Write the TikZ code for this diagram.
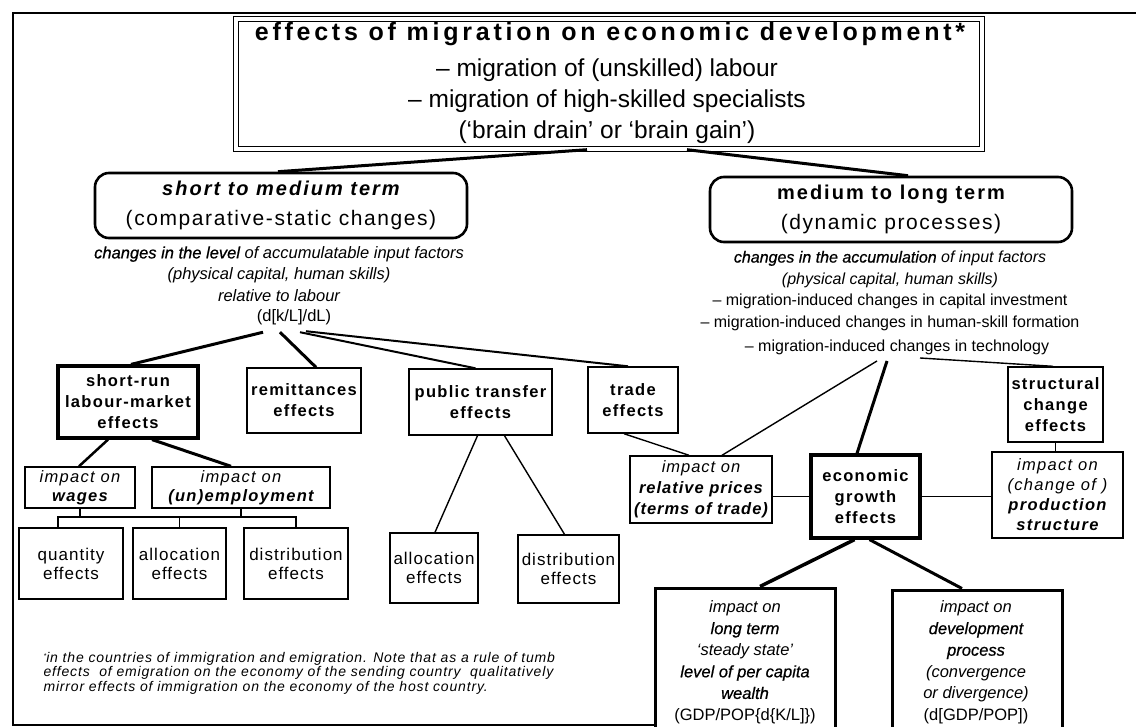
\documentclass[tikz,border=0pt]{standalone}
\usepackage{fontspec}
\setmainfont{Liberation Sans}
\usetikzlibrary{calc}

% fonts used in the chart
\newcommand\labfont{\fontsize{16.5}{21}\selectfont\addfontfeature{LetterSpace=8}}
\newcommand\efffont{\fontsize{17}{19}\selectfont\addfontfeature{LetterSpace=6}}
\newcommand\semibf{\addfontfeature{FakeBold=0.7}}
% box given by its corners: name, style, x1, y1, x2, y2, text
\newcommand\ebox[7]{\node[#2, minimum width={#5-#3}, minimum height={#6-#4}] (#1) at ({(#3+#5)/2},{(#4+#6)/2}) {#7};}

\begin{document}
\begin{tikzpicture}[x=1pt, y=-1pt,
  plainbox/.style={draw, line width=1.4pt, inner sep=0pt, align=center, font=\labfont},
  heavybox/.style={plainbox, line width=3.2pt},
  termbox/.style={draw, line width=2.6pt, rounded corners=14pt, inner sep=0pt, align=center, font=\fontsize{20}{30}\selectfont},
  effbox/.style={plainbox, font=\efffont},
  link/.style={line width=1.4pt},
  heavylink/.style={line width=3pt}]
\useasboundingbox (0,0) rectangle (1136,727);
\clip (0,0) rectangle (1136,727);

% outer frame
\draw[line width=1.6pt] (1140,13) -- (13,13) -- (13,725) -- (655,725);

% heading
\ebox{head}{draw, double, double distance=4pt, line width=1.4pt}{236}{19}{982}{149}{}
\node[font=\fontsize{25}{30}\selectfont\bfseries\addfontfeature{LetterSpace=15}] (ttl) at (610,34) {effects of migration on economic development*};
\node[font=\fontsize{24.5}{31}\selectfont, align=center] (sub) at (607,101)
  {– migration of (unskilled) labour\\ – migration of high-skilled specialists\\ (‘brain drain’ or ‘brain gain’)};

% the two time horizons
\ebox{stm}{termbox}{95}{173}{467}{238}{{\bfseries\itshape\addfontfeature{LetterSpace=10}short to medium term}\\{\fontsize{21}{30}\selectfont\addfontfeature{LetterSpace=7.5}(comparative-static changes)}}
\ebox{mlt}{termbox}{710}{177}{1072}{242}{{\bfseries\addfontfeature{LetterSpace=10}medium to long term}\\{\fontsize{21}{30}\selectfont\addfontfeature{LetterSpace=7.5}(dynamic processes)}}
\draw[heavylink] ($(head.south)+(-22,0)$) -- ($(stm.north)+(-3,0)$);
\draw[heavylink] ($(head.south)+(78,0)$) -- ($(mlt.north)+(17,0)$);

% explanations below the horizons
\node[font=\fontsize{16.5}{21.5}\selectfont\itshape, align=center] (lvl) at (279,274)
  {{\semibf changes in the level} of accumulatable input factors\\(physical capital, human skills)\\relative to labour};
\node[font=\fontsize{16.5}{20}\selectfont] (dkl) at (294,317) {(d[k/L]/dL)};
\node[font=\fontsize{16}{21.7}\selectfont, align=center] (acc) at (890,291)
  {{\itshape\semibf changes in the accumulation} {\itshape of input factors}\\{\itshape (physical capital, human skills)}\\– migration-induced changes in capital investment\\– migration-induced changes in human-skill formation};
\node[font=\fontsize{16}{20}\selectfont] (tech) at (897,347) {– migration-induced changes in technology};

% short to medium term branch
\ebox{srl}{heavybox}{58}{366}{198}{438}{\bfseries short-run\\\bfseries labour-market\\\bfseries effects}
\ebox{rem}{plainbox}{247}{368}{361}{433}{\bfseries remittances\\\bfseries effects}
\ebox{pub}{plainbox}{409}{369}{552}{435}{\bfseries public transfer\\\bfseries effects}
\ebox{trd}{plainbox}{588}{367}{678}{433}{\bfseries trade\\\bfseries effects}
\draw[heavylink] ($(dkl.south)+(-31,4)$) -- ($(srl.north)+(3,0)$);
\draw[heavylink] ($(dkl.south)+(-14,4)$) -- ($(rem.north)+(12,0)$);
\draw[link, line width=2pt] ($(dkl.south)+(6,4)$) -- ($(pub.north)+(-5,0)$);
\draw[link, line width=2pt] ($(dkl.south)+(12,3)$) -- ($(trd.north)+(-5,0)$);

\ebox{wag}{plainbox, font=\fontsize{16.5}{19}\selectfont\addfontfeature{LetterSpace=8}}{25}{467}{135}{508}{{\itshape impact on}\\{\bfseries\itshape wages}}
\ebox{unemp}{plainbox, font=\fontsize{16.5}{19}\selectfont\addfontfeature{LetterSpace=8}}{152}{467}{330}{508}{{\itshape impact on}\\{\bfseries\itshape (un)employment}}
\draw[link, line width=2.5pt] ($(srl.south)+(-20,0)$) -- ($(wag.north)+(-1,0)$);
\draw[heavylink] ($(srl.south)+(24,0)$) -- ($(unemp.north)+(-10,0)$);

\ebox{qty}{effbox}{19}{528}{123}{599}{quantity\\effects}
\ebox{alc}{effbox}{133}{528}{226}{599}{allocation\\effects}
\ebox{dst}{effbox}{244}{528}{348}{599}{distribution\\effects}
\coordinate (bar) at (0,517);
\coordinate (qa) at ($(qty.north)+(-13,0)$);
\draw[link] (wag.south) -- (wag.south |- bar);
\draw[link] (unemp.south) -- (unemp.south |- bar);
\draw[link] (qa) -- (qa |- bar) -- (dst.north |- bar) -- (dst.north);
\draw[link] (alc.north) -- (alc.north |- bar);

\ebox{pal}{effbox}{390}{533}{478}{603}{allocation\\effects}
\ebox{pdst}{effbox}{518}{535}{619}{603}{distribution\\effects}
\draw[link] ($(pub.south)+(-3,0)$) -- ($(pal.north)+(1,0)$);
\draw[link] ($(pub.south)+(24,0)$) -- ($(pdst.north)+(-4,0)$);

% medium to long term branch
\ebox{rel}{plainbox, font=\fontsize{16.5}{21}\selectfont\addfontfeature{LetterSpace=6}}{630}{456}{772}{523}{{\itshape impact on}\\{\bfseries\itshape relative prices}\\{\bfseries\itshape (terms of trade)}}
\ebox{gro}{heavybox}{811}{455}{920}{538}{\bfseries economic\\\bfseries growth\\\bfseries effects}
\ebox{str}{plainbox}{1008}{367}{1103}{442}{\bfseries structural\\\bfseries change\\\bfseries effects}
\ebox{prd}{plainbox, font=\fontsize{16.5}{20}\selectfont\addfontfeature{LetterSpace=8}}{992}{452}{1123}{538}{{\itshape impact on}\\{\itshape (change of )}\\{\bfseries\itshape production}\\{\bfseries\itshape structure}}
\draw[link] ($(tech.south)+(-20,3)$) -- ($(rel.north)+(21,0)$);
\draw[heavylink] ($(tech.south)+(-10,3)$) -- ($(gro.north)+(-8.5,0)$);
\draw[link] ($(tech.south)+(23,0)$) -- ($(str.north)+(-2.5,0)$);
\draw[link] ($(trd.south)+(-9,0)$) -- ($(rel.north)+(-12,0)$);
\draw[link] (gro.west) -- (gro.west -| rel.east);
\draw[link] (gro.east) -- (gro.east -| prd.west);
\draw[link] (str.south) -- (str.south |- prd.north);

\ebox{ltb}{heavybox, line width=3pt}{655}{588}{835}{760}{}
\ebox{dev}{heavybox, line width=3pt}{892}{590}{1062}{760}{}
\node[anchor=north, align=center, font=\fontsize{16.5}{21.6}\selectfont\itshape] (ltbt) at (745,597)
  {impact on\\{\semibf long term}\\‘steady state’\\{\semibf level of per capita}\\{\semibf wealth}\\\upshape(GDP/POP\{d\{K/L]\})};
\node[anchor=north, align=center, font=\fontsize{16.5}{21.6}\selectfont\itshape] (devt) at (976,597)
  {impact on\\{\semibf development}\\{\semibf process}\\(convergence\\or divergence)\\\upshape(d[GDP/POP])};
\draw[line width=3.5pt] ($(gro.south)+(-11,0)$) -- ($(ltb.north)+(15,0)$);
\draw[heavylink] ($(gro.south)+(4,0)$) -- ($(dev.north)+(-15,0)$);

% footnote
\node[anchor=west, align=left, font=\fontsize{14}{14.5}\selectfont\itshape\addfontfeature{LetterSpace=6}] (fn) at (40,673)
  {\raisebox{4pt}{\fontsize{7}{7}\selectfont*}in the countries of immigration and emigration. Note that as a rule of tumb\\effects\ \ of emigration on the economy of the sending country\ \ qualitatively\\mirror effects of immigration on the economy of the host country.};
\end{tikzpicture}
\end{document}
